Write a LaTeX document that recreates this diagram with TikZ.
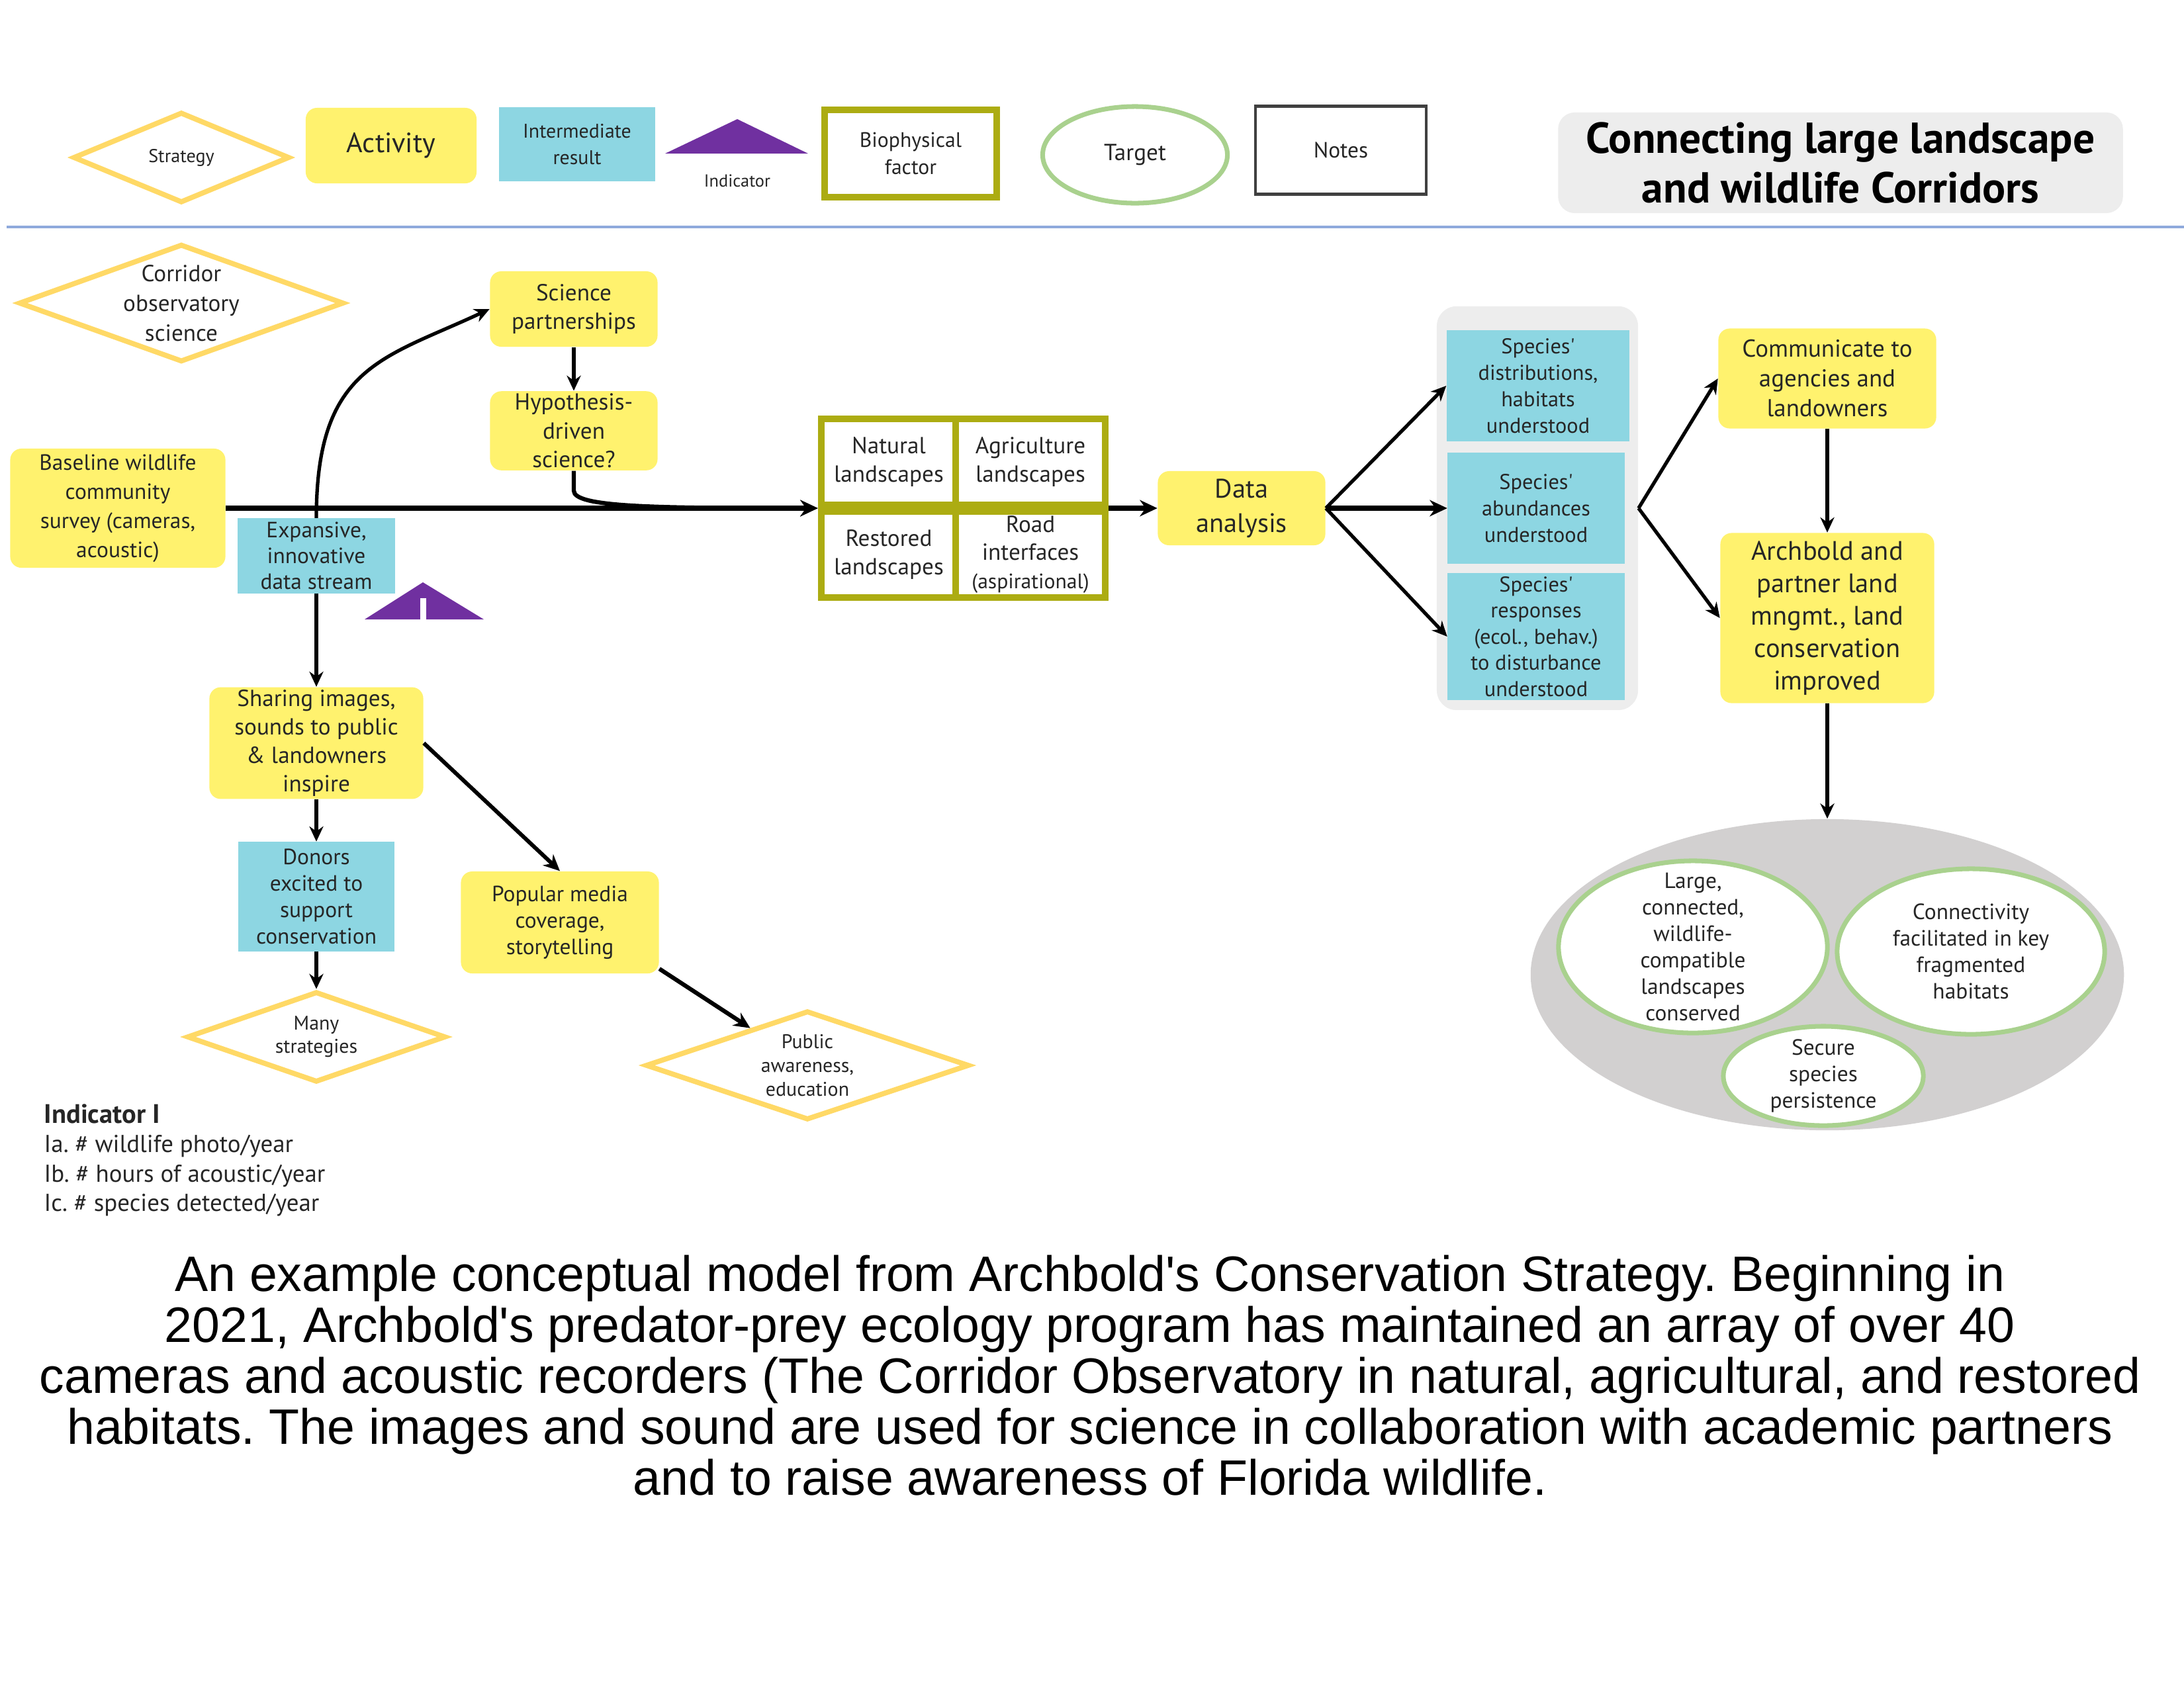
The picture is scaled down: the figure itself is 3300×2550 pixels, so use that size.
\documentclass[tikz,border=0pt]{standalone}
\usepackage{fontspec}
\setmainfont{PT Sans}
\newfontfamily\capfont{Liberation Sans}
\usetikzlibrary{shapes.geometric,arrows.meta,fit}
\definecolor{actyellow}{RGB}{255,242,110}
\definecolor{irblue}{RGB}{141,214,226}
\definecolor{stratgold}{RGB}{255,217,102}
\definecolor{bioolive}{RGB}{172,172,18}
\definecolor{tgtgreen}{RGB}{169,209,142}
\definecolor{indpurple}{RGB}{112,48,160}
\definecolor{panelgray}{RGB}{237,237,237}
\definecolor{goalgray}{RGB}{210,208,208}
\definecolor{ruleblue}{RGB}{143,170,220}
\newcommand{\setfs}[2]{\fontsize{#1}{#2}\selectfont}
\frenchspacing

\begin{document}
\begin{tikzpicture}[x=0.01cm,y=-0.01cm,
    activity/.style={fill=actyellow,rounded corners=0.17cm,align=center,inner sep=1pt,text=black!85},
    interm/.style={fill=irblue,align=center,inner sep=1pt,text=black!85},
    strategy/.style={diamond,draw=stratgold,line width=2.2pt,fill=white,inner sep=0pt},
    biofac/.style={draw=bioolive,line width=2.85pt,fill=white,align=center,inner sep=1pt,text=black!85},
    target/.style={ellipse,draw=tgtgreen,line width=2pt,fill=white,inner sep=0pt},
    intext/.style={align=center,text=black!85},
    flow/.style={line width=1.5pt,-{Stealth[length=6.5pt,width=6pt]}},
    bigflow/.style={line width=2.4pt,-{Stealth[length=7.5pt,width=7pt]}}]
\useasboundingbox (0,0) rectangle (3300,2550);

% legend
\node[strategy,minimum width=3.27cm,minimum height=1.37cm,
    label={[intext,font=\setfs{8}{10}]center:Strategy}] (legstrat) at (274,238) {};
\node[activity,minimum width=2.58cm,minimum height=1.14cm,font=\setfs{12}{14}] (legact) at (591,220) {Activity};
\node[interm,minimum width=2.36cm,minimum height=1.11cm,font=\setfs{8.5}{11.4}] (legir) at (872,218) {Intermediate\\result};
\fill[indpurple] (1005,232) -- (1114,180) -- (1221,232) -- cycle;
\node[intext,font=\setfs{7.5}{9}] (legind) at (1114,273) {Indicator};
\node[biofac,minimum width=2.6cm,minimum height=1.32cm,font=\setfs{9}{11.4}] (legbio) at (1376,232) {Biophysical\\factor};
\node[target,minimum width=2.79cm,minimum height=1.46cm,
    label={[intext,font=\setfs{10}{12}]center:Target}] (legtgt) at (1715,234) {};
\node[draw=black!75,line width=1.2pt,minimum width=2.58cm,minimum height=1.33cm,intext,font=\setfs{9.5}{11.4}] (legnote) at (2026,227) {Notes};
\node[fill=panelgray,rounded corners=0.25cm,minimum width=8.53cm,minimum height=1.52cm,align=center,
    font=\bfseries\setfs{18.6}{21.3}] (title) at (2781,246) {Connecting large landscape\\and wildlife Corridors};
\draw[ruleblue,line width=1.3pt] (10,343) -- (3300,343);

% left part
\node[strategy,minimum width=4.91cm,minimum height=1.78cm,
    label={[intext,font=\setfs{10}{12.8}]center:{Corridor\\observatory\\science}}] (cos) at (274,458) {};
\node[activity,minimum width=2.53cm,minimum height=1.14cm,font=\setfs{10}{12.3}] (scip) at (867,467) {Science\\partnerships};
\node[activity,minimum width=2.53cm,minimum height=1.14cm,font=\setfs{10}{12.4}] (hyp) at (867,651) {Hypothesis-\\driven\\science?};
\node[activity,minimum width=3.25cm,minimum height=1.8cm,font=\setfs{9.5}{12.5}] (base) at (178,768) {Baseline wildlife\\community\\survey (cameras,\\acoustic)};
\node[interm,minimum width=2.37cm,minimum height=1.13cm,font=\setfs{9.5}{11.1}] (exp) at (478,840) {Expansive,\\innovative\\data stream};
\fill[indpurple] (551,936) -- (639,880) -- (731,936) -- cycle;
\fill[white] (635,904) rectangle (644,937);

\node[activity,minimum width=3.23cm,minimum height=1.63cm,font=\setfs{10}{12.3}] (share) at (478,1123) {Sharing images,\\sounds to public\\\& landowners\\inspire};
\node[interm,minimum width=2.36cm,minimum height=1.65cm,font=\setfs{9.5}{11.4}] (donors) at (478,1355) {Donors\\excited to\\support\\conservation};
\node[strategy,minimum width=3.91cm,minimum height=1.37cm,
    label={[intext,font=\setfs{8.5}{10}]center:{Many\\strategies}}] (many) at (478,1567) {};
\node[activity,minimum width=2.99cm,minimum height=1.54cm,font=\setfs{9.5}{11.4}] (popular) at (846,1394) {Popular media\\coverage,\\storytelling};
\node[strategy,minimum width=4.89cm,minimum height=1.65cm,
    label={[intext,font=\setfs{8.5}{10.2}]center:{Public\\awareness,\\education}}] (public) at (1220,1610) {};

% biophysical factors
\node[biofac,minimum width=2.03cm,minimum height=1.3cm,font=\setfs{10}{12.2}] (nat) at (1343,698) {Natural\\landscapes};
\node[biofac,minimum width=2.25cm,minimum height=1.3cm,font=\setfs{10}{12.2}] (agr) at (1557,698) {Agriculture\\landscapes};
\node[biofac,minimum width=2.03cm,minimum height=1.3cm,font=\setfs{10}{12.2}] (res) at (1343,838) {Restored\\landscapes};
\node[biofac,minimum width=2.25cm,minimum height=1.3cm,font=\setfs{10}{12.2}] (road) at (1557,838) {Road\\interfaces\\{\setfs{9}{10}(aspirational)}};
\node[fit=(nat)(road),inner sep=0pt] (bioGrid) {};

\node[activity,minimum width=2.53cm,minimum height=1.12cm,font=\setfs{11.5}{14.8}] (data) at (1876,768) {Data\\analysis};

% results
\node[fill=panelgray,rounded corners=0.3cm,minimum width=3.04cm,minimum height=6.1cm] (grpS) at (2323,768) {};
\node[interm,minimum width=2.76cm,minimum height=1.67cm,font=\setfs{9.2}{11.4}] (sdist) at (2324,583) {Species\textquotesingle\\distributions,\\habitats\\understood};
\node[interm,minimum width=2.67cm,minimum height=1.67cm,font=\setfs{9.2}{11.4}] (sabun) at (2321,768) {Species\textquotesingle\\abundances\\understood};
\node[interm,minimum width=2.67cm,minimum height=1.91cm,font=\setfs{9.2}{11.2}] (sresp) at (2321,962) {Species\textquotesingle\\responses\\(ecol., behav.)\\to disturbance\\understood};

\node[activity,minimum width=3.29cm,minimum height=1.51cm,font=\setfs{10.5}{12.8}] (comm) at (2761,572) {Communicate to\\agencies and\\landowners};
\node[activity,minimum width=3.23cm,minimum height=2.57cm,font=\setfs{11.5}{13.9}] (arch) at (2761,934) {Archbold and\\partner land\\mngmt., land\\conservation\\improved};

% targets
\node[ellipse,fill=goalgray,minimum width=8.96cm,minimum height=4.7cm] (goals) at (2761,1473) {};
\node[target,minimum width=4.06cm,minimum height=2.6cm,
    label={[intext,font=\setfs{9.5}{11.4}]center:{Large,\\connected,\\wildlife-\\compatible\\landscapes\\conserved}}] (tlarge) at (2558,1431) {};
\node[target,minimum width=4.04cm,minimum height=2.5cm,
    label={[intext,font=\setfs{9.5}{11.4}]center:{Connectivity\\facilitated in key\\fragmented\\habitats}}] (tconn) at (2978,1438) {};
\node[target,minimum width=3.02cm,minimum height=1.5cm,
    label={[intext,font=\setfs{9.5}{11.4}]center:{Secure\\species\\persistence}}] (tsec) at (2755,1626) {};

% indicator notes
\node[anchor=north west,inner sep=0pt,align=left,text=black!85,font=\setfs{10.5}{12.6}] (indnote) at (66,1668)
    {{\bfseries\setfs{11.5}{13}Indicator I}\\Ia. \# wildlife photo/year\\Ib. \# hours of acoustic/year\\Ic. \# species detected/year};

% connectors
\draw[bigflow] (base.east) -- (bioGrid.west);
\draw[flow] (exp.north) .. controls +(0,-230) and +(-160,75) .. (scip.west);
\draw[flow] (scip.south) -- (hyp.north);
\draw[line width=1.8pt,-{Stealth[length=7.5pt,width=7pt]}] (hyp.south) -- ++(0,30) .. controls +(0,25) and +(-250,0) .. (bioGrid.west);
\draw[flow] (exp.south) -- (share.north);
\draw[flow] (share.south) -- (donors.north);
\draw[flow] (donors.south) -- (many.north);
\draw[line width=1.7pt,-{Stealth[length=7pt,width=6.5pt]}] (share.east) -- (popular.north);
\draw[line width=1.8pt,-{Stealth[length=7pt,width=6.5pt]}] (popular.-25) -- (public);
\draw[bigflow] (bioGrid.east) -- (data.west);
\draw[flow] (data.east) -- (sdist.west);
\draw[bigflow] (data.east) -- (sabun.west);
\draw[flow] (data.east) -- (sresp.west);
\draw[flow] (grpS.east) -- (comm.west);
\draw[flow] (grpS.east) -- (arch.west);
\draw[flow] (comm.south) -- (arch.north);
\draw[flow] (arch.south) -- (goals.north);

% caption
\node[anchor=north,inner sep=0pt,align=center,font=\capfont\setfs{21.4}{21.9}] (caption) at (1647,1896)
    {An example conceptual model from Archbold\textquotesingle s Conservation Strategy. Beginning in\\
     2021, Archbold\textquotesingle s predator-prey ecology program has maintained an array of over 40\\
     cameras and acoustic recorders (The Corridor Observatory in natural, agricultural, and restored\\
     habitats. The images and sound are used for science in collaboration with academic partners\\
     and to raise awareness of Florida wildlife.};
\end{tikzpicture}
\end{document}
